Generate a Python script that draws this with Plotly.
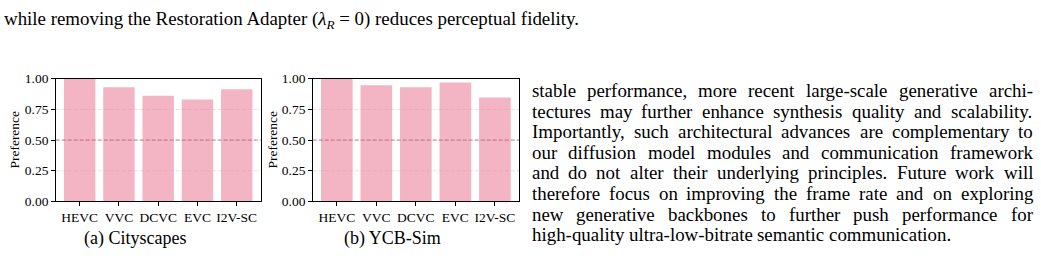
import plotly.graph_objects as go

# ---------------- data ----------------
categories = ["HEVC", "VVC", "DCVC", "EVC", "I2V-SC"]
cityscapes = [1.00, 0.93, 0.862, 0.83, 0.915]
ycb_sim = [1.00, 0.946, 0.931, 0.969, 0.848]
ytick_vals = [0.0, 0.25, 0.5, 0.75, 1.0]
ref_level = 0.5
captions = ["(a) Cityscapes", "(b) YCB-Sim"]
y_title = "Preference"

top_line = "while removing the Restoration Adapter (<i>λ</i><sub><i>R</i></sub> = 0) reduces perceptual fidelity."
body_lines = [
    "stable performance, more recent large-scale generative archi-",
    "tectures may further enhance synthesis quality and scalability.",
    "Importantly, such architectural advances are complementary to",
    "our diffusion model modules and communication framework",
    "and do not alter their underlying principles. Future work will",
    "therefore focus on improving the frame rate and on exploring",
    "new generative backbones to further push performance for",
    "high-quality ultra-low-bitrate semantic communication.",
]

# ---------------- style ----------------
W, H = 1041, 267
FONT = "Liberation Serif, Times New Roman, serif"
BAR = "#F3B5C3"
GRID = "rgba(220,150,170,0.35)"
REF = "rgba(170,90,115,0.7)"

def px(x):
    return x / W

def py(y):
    return 1 - y / H

fig = go.Figure()
fig.add_trace(go.Bar(x=categories, y=cityscapes, marker_color=BAR, marker_line_width=0,
                     xaxis="x", yaxis="y", showlegend=False))
fig.add_trace(go.Bar(x=categories, y=ycb_sim, marker_color=BAR, marker_line_width=0,
                     xaxis="x2", yaxis="y2", showlegend=False))

axis_common = dict(showline=True, mirror=True, linecolor="black", linewidth=1.1,
                   ticks="outside", ticklen=3.5, tickwidth=1, tickcolor="black",
                   tickfont=dict(family=FONT, size=13.5, color="black"),
                   showgrid=False, zeroline=False)

panels = [(55.7, 260.7), (312.7, 519.0)]
top_px, bot_px = 76.0, 206.0

fig.update_layout(
    width=W, height=H, margin=dict(l=0, r=0, t=0, b=0),
    paper_bgcolor="white", plot_bgcolor="white", bargap=0.2,
    xaxis=dict(domain=[px(panels[0][0]), px(panels[0][1])], anchor="y",
               range=[-0.61, 4.61], **axis_common),
    yaxis=dict(domain=[py(bot_px), py(top_px)], anchor="x", range=[0, 1],
               tickvals=ytick_vals, tickformat=".2f", **axis_common),
    xaxis2=dict(domain=[px(panels[1][0]), px(panels[1][1])], anchor="y2",
                range=[-0.61, 4.61], **axis_common),
    yaxis2=dict(domain=[py(bot_px), py(top_px)], anchor="x2", range=[0, 1],
                tickvals=ytick_vals, tickformat=".2f", **axis_common),
)

# gridlines drawn above the bars (as in the reference) + reference line at 0.5
shapes = []
for xr, yr in [("x domain", "y"), ("x2 domain", "y2")]:
    for v in ytick_vals[1:-1]:
        shapes.append(dict(type="line", xref=xr, yref=yr, x0=0, x1=1, y0=v, y1=v,
                           line=dict(color=GRID, width=1, dash="4px,2px"), layer="above"))
    shapes.append(dict(type="line", xref=xr, yref=yr, x0=0, x1=1, y0=ref_level, y1=ref_level,
                       line=dict(color=REF, width=1, dash="4px,2px"), layer="above"))
fig.update_layout(shapes=shapes)

ann = []
for xc in (15.0, 273.0):
    ann.append(dict(text=y_title, x=px(xc), y=py(140.5), xref="paper", yref="paper",
                    xanchor="center", yanchor="middle", textangle=-90, showarrow=False,
                    font=dict(family=FONT, size=13.5, color="black")))
for cap, xc in zip(captions, (134.5, 392.5)):
    ann.append(dict(text=cap, x=px(xc), y=py(245), xref="paper", yref="paper",
                    xanchor="center", yanchor="middle", showarrow=False,
                    font=dict(family=FONT, size=18, color="black")))

FS = 18.9
ann.append(dict(text=top_line, x=px(3), y=py(14), xref="paper", yref="paper",
                xanchor="left", yanchor="middle", showarrow=False, borderpad=0,
                font=dict(family=FONT, size=FS, color="black")))

# justified right-hand column (Times metrics used to spread words)
TW = dict(a=444, b=500, c=444, d=500, e=444, f=333, g=500, h=500, i=278, j=278, k=500,
          l=278, m=778, n=500, o=500, p=500, q=500, r=333, s=389, t=278, u=500, v=500,
          w=722, x=500, y=500, z=444)
TW.update({"I": 333, "F": 556, ",": 250, ".": 250, "-": 333})

def wwidth(word):
    return sum(TW.get(ch, 500) for ch in word) * FS / 1000.0

L, R = 530.5, 1032.0
base0, lead = 95.0, 21.8
for k, line in enumerate(body_lines):
    words = line.split(" ")
    widths = [wwidth(w) for w in words]
    if k < len(body_lines) - 1:
        gap = (R - L - sum(widths)) / (len(words) - 1)
    else:
        gap = 0.25 * FS
    yc = base0 + k * lead - 0.34 * FS
    x = L
    for w, wd in zip(words, widths):
        ann.append(dict(text=w, x=px(x), y=py(yc), xref="paper", yref="paper",
                        xanchor="left", yanchor="middle", showarrow=False, borderpad=0,
                        font=dict(family=FONT, size=FS, color="black")))
        x += wd + gap

fig.update_layout(annotations=ann)
fig.write_html("out.html")
